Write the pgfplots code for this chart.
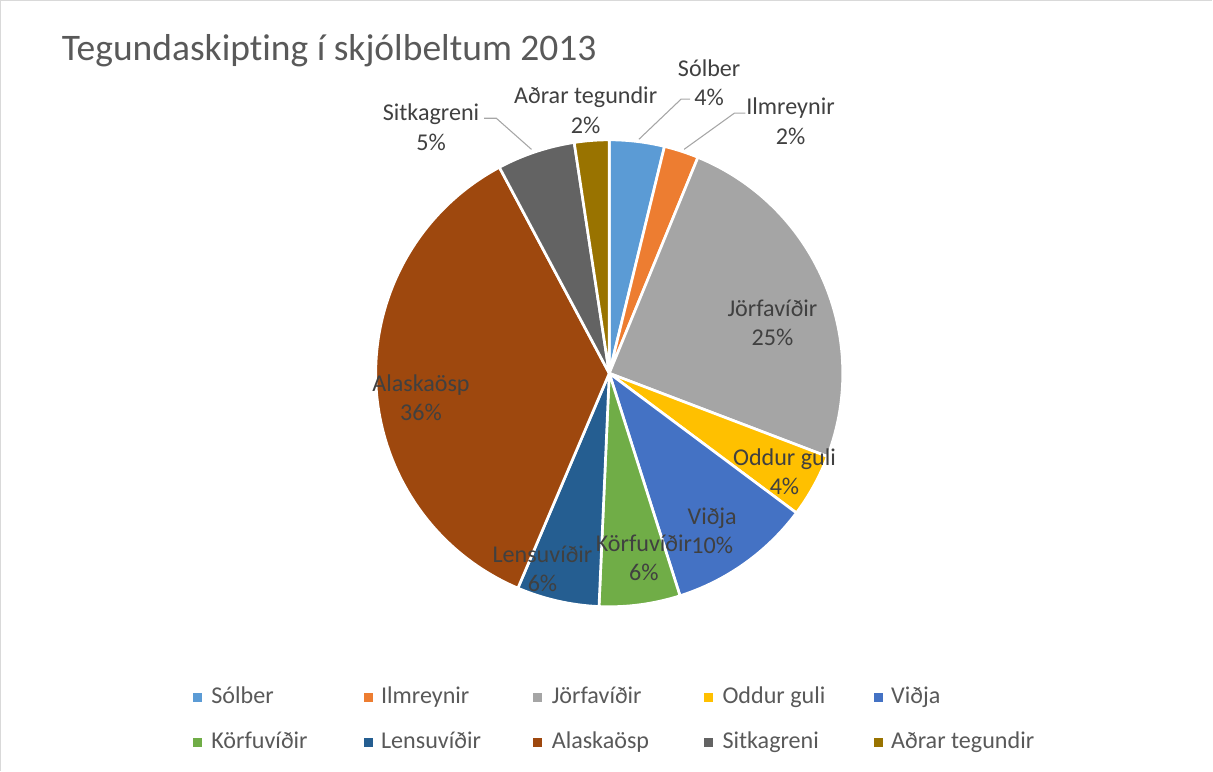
\documentclass[border=0pt]{standalone}
\usepackage{pgfplots}
\pgfplotsset{compat=1.18}
\usepackage{pgfplotstable}
\usepackage{fontspec}
\setmainfont{Carlito}[Ligatures=NoCommon]
\definecolor{c0}{HTML}{5B9BD5}
\definecolor{c1}{HTML}{ED7D31}
\definecolor{c2}{HTML}{A5A5A5}
\definecolor{c3}{HTML}{FFC000}
\definecolor{c4}{HTML}{4472C4}
\definecolor{c5}{HTML}{70AD47}
\definecolor{c6}{HTML}{255E91}
\definecolor{c7}{HTML}{9E480E}
\definecolor{c8}{HTML}{636363}
\definecolor{c9}{HTML}{997300}
\definecolor{titlegray}{HTML}{595959}
\definecolor{labelgray}{HTML}{404040}
\definecolor{bordergray}{HTML}{D9D9D9}
\definecolor{leadergray}{HTML}{A6A6A6}

% share (percent) of each species
\pgfplotstableread[col sep=comma]{
idx,name,value
0,Sólber,3.8
1,Ilmreynir,2.4
2,Jörfavíðir,24.6
3,Oddur guli,4.4
4,Víðja,9.9
5,Körfuvíðir,5.6
6,Lensuvíðir,5.7
7,Alaskaösp,35.8
8,Sitkagreni,5.4
9,Aðrar tegundir,2.4
}\pietable

\def\cum{0}
\pgfplotsforeachungrouped \i in {0,...,9}{%
  \pgfplotstablegetelem{\i}{value}\of\pietable
  \pgfmathsetmacro\s{90-3.6*\cum}%
  \pgfmathsetmacro\cum{\cum+\pgfplotsretval}%
  \pgfmathsetmacro\e{90-3.6*\cum}%
  \expandafter\xdef\csname sa\i\endcsname{\s}%
  \expandafter\xdef\csname ea\i\endcsname{\e}%
}

\tikzset{
  lab/.style={align=center, inner sep=0pt, text=labelgray,
    font=\fontsize{18}{21.75}\selectfont},
  leg/.style={anchor=base west, inner sep=0pt, text=titlegray,
    font=\fontsize{18}{21.75}\selectfont},
}

\begin{document}
\begin{tikzpicture}
\begin{axis}[
  width=909.75pt, height=579pt, scale only axis,
  xmin=0, xmax=1213, ymin=0, ymax=772, y dir=reverse,
  axis lines=none, clip=false,
]
% border
\draw[bordergray, line width=1.1pt] (axis cs:6.5,772) -- (axis cs:6.5,5) -- (axis cs:1213,5);
% title
\node[anchor=base west, inner sep=0pt, font=\fontsize{28}{33}\selectfont, text=titlegray]
  at (axis cs:67,65) {Tegundaskipting í skjólbeltum 2013};
% wedges
\pgfplotsinvokeforeach{0,...,9}{%
  \fill[c#1, draw=white, line width=2pt, line join=round]
    (axis cs:612.5,376) -- ++(\csname sa#1\endcsname:174.375pt)
    arc[start angle=\csname sa#1\endcsname, end angle=\csname ea#1\endcsname, radius=174.375pt] -- cycle;
}
% leader lines
\draw[leadergray, line width=0.8pt] (axis cs:693,103) -- (axis cs:684,103) -- (axis cs:642,143);
\draw[leadergray, line width=0.8pt] (axis cs:748,117) -- (axis cs:737,117) -- (axis cs:687,153);
\draw[leadergray, line width=0.8pt] (axis cs:488,122) -- (axis cs:500,122) -- (axis cs:535,153);
% data labels
\node[lab] at (axis cs:712,87) {Sólber\\4\%};
\node[lab] at (axis cs:793,125) {Ilmreynir\\2\%};
\node[lab] at (axis cs:589,114) {Aðrar tegundir\\2\%};
\node[lab] at (axis cs:435,131) {Sitkagreni\\5\%};
\node[lab] at (axis cs:775,326) {Jörfavíðir\\25\%};
\node[lab] at (axis cs:787,474) {Oddur guli\\4\%};
\node[lab] at (axis cs:715,533) {Viðja\\10\%};
\node[lab] at (axis cs:647,560) {Körfuvíðir\\6\%};
\node[lab] at (axis cs:546,571) {Lensuvíðir\\6\%};
\node[lab] at (axis cs:425,400) {Alaskaösp\\36\%};
% legend
\fill[c0] (axis cs:198,694) rectangle (axis cs:207,703);
\node[leg] at (axis cs:216,705) {Sólber};
\fill[c1] (axis cs:368,694) rectangle (axis cs:377,703);
\node[leg] at (axis cs:385,705) {Ilmreynir};
\fill[c2] (axis cs:537,694) rectangle (axis cs:546,703);
\node[leg] at (axis cs:555,705) {Jörfavíðir};
\fill[c3] (axis cs:707,694) rectangle (axis cs:716,703);
\node[leg] at (axis cs:725,705) {Oddur guli};
\fill[c4] (axis cs:876,694) rectangle (axis cs:885,703);
\node[leg] at (axis cs:893,705) {Viðja};
\fill[c5] (axis cs:198,739) rectangle (axis cs:207,748);
\node[leg] at (axis cs:216,750) {Körfuvíðir};
\fill[c6] (axis cs:368,739) rectangle (axis cs:377,748);
\node[leg] at (axis cs:385,750) {Lensuvíðir};
\fill[c7] (axis cs:537,739) rectangle (axis cs:546,748);
\node[leg] at (axis cs:555,750) {Alaskaösp};
\fill[c8] (axis cs:707,739) rectangle (axis cs:716,748);
\node[leg] at (axis cs:725,750) {Sitkagreni};
\fill[c9] (axis cs:876,739) rectangle (axis cs:885,748);
\node[leg] at (axis cs:893,750) {Aðrar tegundir};
\end{axis}
\end{tikzpicture}
\end{document}
